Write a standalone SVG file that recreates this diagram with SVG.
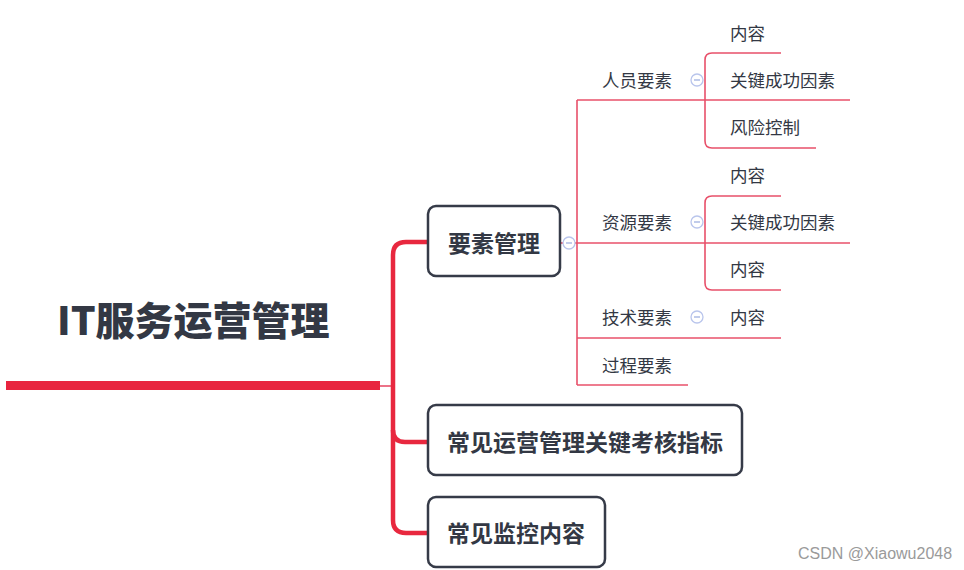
<svg xmlns="http://www.w3.org/2000/svg" width="964" height="570" viewBox="0 0 964 570">
<style>
.root{font-family:"Noto Sans CJK SC","Noto Sans",sans-serif;font-weight:900;font-size:39px;fill:#333844}
.box{fill:#fff;stroke:#363b48;stroke-width:2.5}
.bt{font-family:"Noto Sans CJK SC","Noto Sans",sans-serif;font-weight:bold;font-size:23px;fill:#333844;dominant-baseline:central}
.t{font-family:"Noto Sans CJK SC","Noto Sans",sans-serif;font-size:17.5px;fill:#333844;dominant-baseline:central}
.thin{fill:none;stroke:#e8506a;stroke-width:1.6}
.thick{fill:none;stroke:#e8283f;stroke-width:4.5}
.col{fill:#fff;stroke:#b9c5ec;stroke-width:1.3}
.minus{stroke:#9fb0e0;stroke-width:1.3}
.wm{font-family:"Liberation Sans",Arial,sans-serif;font-size:16px;fill:#9a9a9a}
</style>
<g id="connectors">
  <rect x="6" y="381" width="374" height="9" fill="#e8253f"/>
  <line x1="380" y1="386" x2="393" y2="386" class="thin"/>
  <path class="thick" d="M428,242 H406 Q393,242 393,255 V520 Q393,533 406,533 H428"/>
  <path class="thick" d="M393,430 Q393,442 405,442 H428"/>
  <line x1="560" y1="243" x2="577" y2="243" class="thin"/>
  <line x1="577" y1="100" x2="577" y2="385" class="thin"/>
  <line x1="577" y1="100" x2="850" y2="100" class="thin"/>
  <line x1="577" y1="243" x2="850" y2="243" class="thin"/>
  <line x1="577" y1="338" x2="781" y2="338" class="thin"/>
  <line x1="577" y1="385" x2="688" y2="385" class="thin"/>
  <path class="thin" d="M781,53 H712 Q705,53 705,60 V141 Q705,148 712,148 H816"/>
  <path class="thin" d="M781,196 H712 Q705,196 705,203 V283 Q705,290 712,290 H781"/>
</g>
<g id="root"><text class="root" x="57" y="335">IT服务运营管理</text></g>
<g id="n-yaosu">
  <rect class="box" x="428" y="206" width="132" height="70" rx="8"/>
  <text class="bt" x="494" y="242" text-anchor="middle">要素管理</text>
  <circle class="col" cx="569" cy="243" r="6"/>
  <line class="minus" x1="566" y1="243" x2="572" y2="243"/>
</g>
<g id="n-kpi">
  <rect class="box" x="428" y="405" width="314" height="70" rx="8"/>
  <text class="bt" x="447" y="441">常见运营管理关键考核指标</text>
</g>
<g id="n-jiankong">
  <rect class="box" x="428" y="497" width="177" height="70" rx="8"/>
  <text class="bt" x="447" y="532">常见监控内容</text>
</g>
<g id="n-renyuan">
  <text class="t" x="602" y="79">人员要素</text>
  <circle class="col" cx="697" cy="80" r="6"/>
  <line class="minus" x1="694" y1="80" x2="700" y2="80"/>
</g>
<g id="n-renyuan-1"><text class="t" x="730" y="32">内容</text></g>
<g id="n-renyuan-2"><text class="t" x="730" y="79">关键成功因素</text></g>
<g id="n-renyuan-3"><text class="t" x="730" y="126">风险控制</text></g>
<g id="n-ziyuan">
  <text class="t" x="602" y="221">资源要素</text>
  <circle class="col" cx="697" cy="222" r="6"/>
  <line class="minus" x1="694" y1="222" x2="700" y2="222"/>
</g>
<g id="n-ziyuan-1"><text class="t" x="730" y="174">内容</text></g>
<g id="n-ziyuan-2"><text class="t" x="730" y="221">关键成功因素</text></g>
<g id="n-ziyuan-3"><text class="t" x="730" y="268">内容</text></g>
<g id="n-jishu">
  <text class="t" x="602" y="316">技术要素</text>
  <circle class="col" cx="697" cy="317" r="6"/>
  <line class="minus" x1="694" y1="317" x2="700" y2="317"/>
</g>
<g id="n-jishu-1"><text class="t" x="730" y="316">内容</text></g>
<g id="n-guocheng"><text class="t" x="602" y="364">过程要素</text></g>
<text class="wm" x="798" y="559">CSDN @Xiaowu2048</text>
</svg>
